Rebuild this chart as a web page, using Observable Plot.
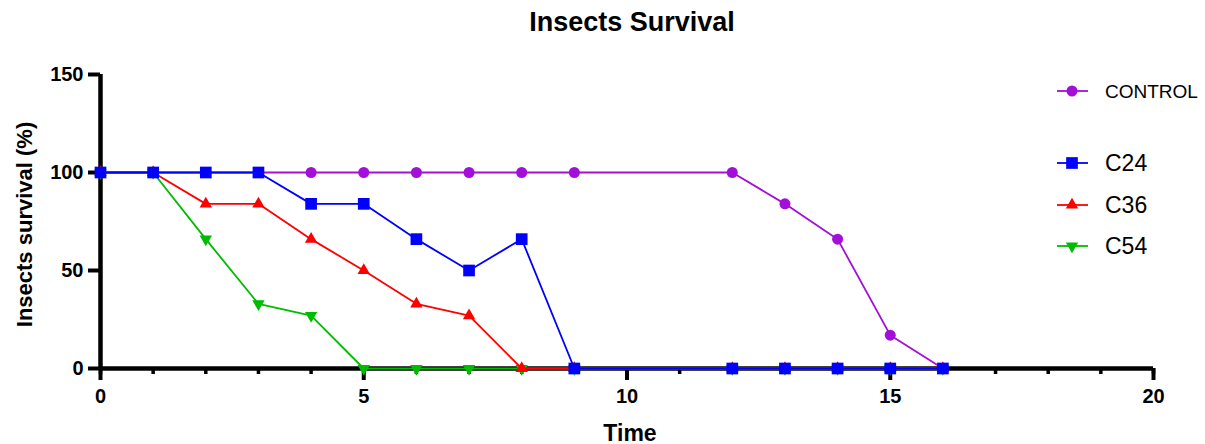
<!DOCTYPE html>
<html>
<head>
<meta charset="utf-8">
<script src="https://cdn.jsdelivr.net/npm/d3@7"></script>
<script src="https://cdn.jsdelivr.net/npm/@observablehq/plot@0.6"></script>
<style>
  html, body { margin: 0; padding: 0; background: white; }
  #chart { width: 1205px; height: 444px; }
</style>
</head>
<body>
<div id="chart"></div>
<script>
// ---- data ----
const titleText = "Insects Survival";
const xLabel = "Time";
const yLabel = "Insects survival (%)";
const times = [0, 1, 2, 3, 4, 5, 6, 7, 8, 9, 12, 13, 14, 15, 16];
const seriesNames = ["CONTROL", "C24", "C36", "C54"];
const control = [100, 100, 100, 100, 100, 100, 100, 100, 100, 100, 100, 84, 66, 17, 0];
const c24 = [100, 100, 100, 100, 84, 84, 66, 50, 66, 0, 0, 0, 0, 0, 0];
const c36 = [100, 100, 84, 84, 66, 50, 33, 27, 0, 0, 0, 0, 0, 0, 0];
const c54 = [100, 100, 66, 33, 27, 0, 0, 0, 0, 0, 0, 0, 0, 0, 0];
const yTicks = [0, 50, 100, 150];
const xMajorTicks = [0, 5, 10, 15, 20];
const xMinorTicks = [0, 1, 2, 3, 4, 5, 6, 7, 8, 9, 10, 11, 12, 13, 14, 15, 16, 17, 18, 19, 20];

// ---- styles ----
const colors = {CONTROL: "#a30fd8", C24: "#0000ff", C36: "#ff0000", C54: "#00bb00"};
const triangleDown = {
  draw(context, size) {
    const s = Math.sqrt(size * 4 / Math.sqrt(3));
    const h = s * Math.sqrt(3) / 2;
    context.moveTo(0, h * 2 / 3);
    context.lineTo(s / 2, -h / 3);
    context.lineTo(-s / 2, -h / 3);
    context.closePath();
  }
};
const symbols = {CONTROL: "circle", C24: "square", C36: "triangle", C54: triangleDown};
const radii = {CONTROL: 5.5, C24: 6.6, C36: 4.6, C54: 4.6};

const valuesBy = {CONTROL: control, C24: c24, C36: c36, C54: c54};
const rowsBy = {};
for (const name of seriesNames) {
  rowsBy[name] = times.map((t, i) => ({series: name, time: t, value: valuesBy[name][i]}));
}
const drawOrder = ["CONTROL", "C54", "C36", "C24"];

const seriesMarks = [];
for (const name of drawOrder) {
  seriesMarks.push(Plot.line(rowsBy[name], {x: "time", y: "value", stroke: colors[name], strokeWidth: 1.8}));
  seriesMarks.push(Plot.dot(rowsBy[name], {x: "time", y: "value", fill: colors[name], stroke: "none", symbol: symbols[name], r: radii[name]}));
}

const chart = Plot.plot({
  width: 1205,
  height: 444,
  marginLeft: 100,
  marginRight: 52,
  marginTop: 74,
  marginBottom: 76,
  style: {fontFamily: "'Liberation Sans', Arial, sans-serif", background: "white", color: "black", overflow: "visible"},
  x: {domain: [0, 20]},
  y: {domain: [0, 150]},
  marks: [
    Plot.axisY(yTicks, {anchor: "left", tickSize: 12, tickPadding: 5, fontSize: 20, fontWeight: "bold", strokeWidth: 4, label: null}),
    Plot.axisX(xMinorTicks, {anchor: "bottom", tickSize: 6, strokeWidth: 3.5, tickFormat: () => "", label: null}),
    Plot.axisX(xMajorTicks, {anchor: "bottom", tickSize: 12, tickPadding: 8, fontSize: 20, fontWeight: "bold", strokeWidth: 4, label: null}),
    Plot.ruleX([0], {y1: 0, y2: 150, strokeWidth: 4.5}),
    Plot.ruleY([0], {x1: 0, x2: 20, strokeWidth: 4.5}),
    ...seriesMarks,
    Plot.text([titleText], {frameAnchor: "top", lineAnchor: "middle", textAnchor: "middle", dx: 5, dy: -52, fontSize: 27, fontWeight: "bold"}),
    Plot.text([yLabel], {frameAnchor: "left", lineAnchor: "middle", textAnchor: "middle", rotate: -90, dx: -76, dy: 3, fontSize: 22, fontWeight: "bold"}),
    Plot.text([xLabel], {frameAnchor: "bottom", lineAnchor: "middle", textAnchor: "middle", dx: 3, dy: 65, fontSize: 23, fontWeight: "bold"})
  ]
});
document.getElementById("chart").appendChild(chart);

// ---- legend ----
const legendItems = [
  {name: "CONTROL", y: 91, size: 19},
  {name: "C24", y: 163, size: 23},
  {name: "C36", y: 205, size: 23},
  {name: "C54", y: 246, size: 23}
];
const svg = d3.select(chart);
const lg = svg.append("g");
for (const it of legendItems) {
  const g = lg.append("g").attr("transform", `translate(1072,${it.y})`);
  g.append("line").attr("x1", -15).attr("x2", 16).attr("stroke", colors[it.name]).attr("stroke-width", 1.8);
  const sym = typeof symbols[it.name] === "string"
    ? {circle: d3.symbolCircle, square: d3.symbolSquare, triangle: d3.symbolTriangle}[symbols[it.name]]
    : symbols[it.name];
  const r = radii[it.name];
  g.append("path").attr("d", d3.symbol(sym, r * r * Math.PI)()).attr("fill", colors[it.name]);
  g.append("text").attr("x", 33).attr("y", 0).attr("dy", "0.35em").attr("text-anchor", "start")
    .attr("font-size", it.size).attr("fill", "black").text(it.name);
}
</script>
</body>
</html>
